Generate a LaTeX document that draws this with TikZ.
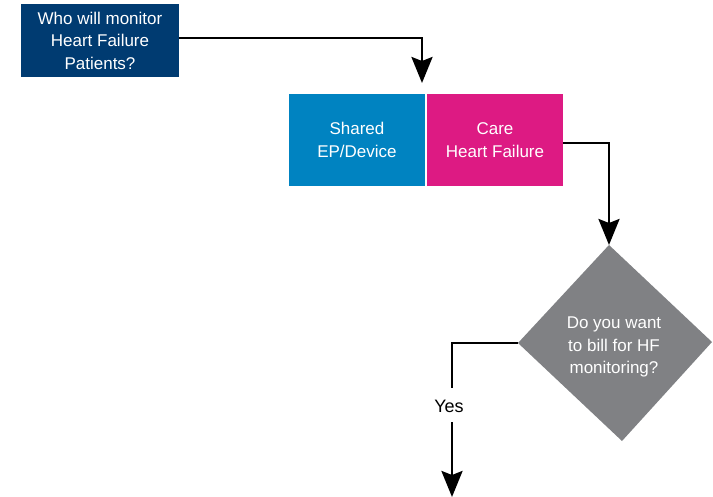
\documentclass[tikz,border=0pt]{standalone}
\usepackage{fontspec}
\setmainfont{Liberation Sans}
\usetikzlibrary{arrows.meta}
\definecolor{navy}{HTML}{003B71}
\definecolor{cyanblue}{HTML}{0083C1}
\definecolor{magentapink}{HTML}{DD1A83}
\definecolor{slategray}{HTML}{808184}
\tikzset{
  box/.style={draw=none, inner sep=0pt, text=white, align=center,
    font=\fontsize{17}{22.5}\selectfont},
  flow/.style={line width=2.7pt, -{Stealth[length=26pt, width=21pt, inset=4pt]}},
  plain/.style={line width=2.7pt}
}
\begin{document}
\begin{tikzpicture}[x=1pt, y=-1pt]
\useasboundingbox (0,0) rectangle (713,497);

% question box
\node[box, fill=navy, minimum width=158pt, minimum height=73pt] (who) at (100,40.5)
  {Who will monitor\\Heart Failure\\Patients?};

% the two care options
\node[box, fill=cyanblue, minimum width=136pt, minimum height=92pt] (shared) at (357,140)
  {Shared\\EP/Device};
\node[box, fill=magentapink, minimum width=136pt, minimum height=92pt] (care) at (495,140)
  {Care\\Heart Failure};

% decision diamond
\coordinate (dT) at (609,245);
\coordinate (dR) at (712,342);
\coordinate (dB) at (622,441);
\coordinate (dL) at (518,343);
\fill[slategray] (dT) -- (dR) -- (dB) -- (dL) -- cycle;
\node[box, text=white] (bill) at (614,347) {Do you want\\to bill for HF\\monitoring?};

% connectors
\coordinate (c1) at (422,38);
\coordinate (t1) at (422,83);
\draw[flow] (who.east |- c1) -- (c1) -- (t1);

\coordinate (c2) at (609,143);
\draw[flow] (care.east |- c2) -- (c2) -- (dT);

\coordinate (c3) at (452,343);
\node[font=\fontsize{18}{20}\selectfont, inner sep=0pt] (yes) at (449,406) {Yes};
\coordinate (c4) at (452,388);
\coordinate (c5) at (452,422);
\coordinate (t3) at (452,497);
\draw[plain] (dL) -- (c3) -- (c4);
\draw[flow] (c5) -- (t3);
\end{tikzpicture}
\end{document}
